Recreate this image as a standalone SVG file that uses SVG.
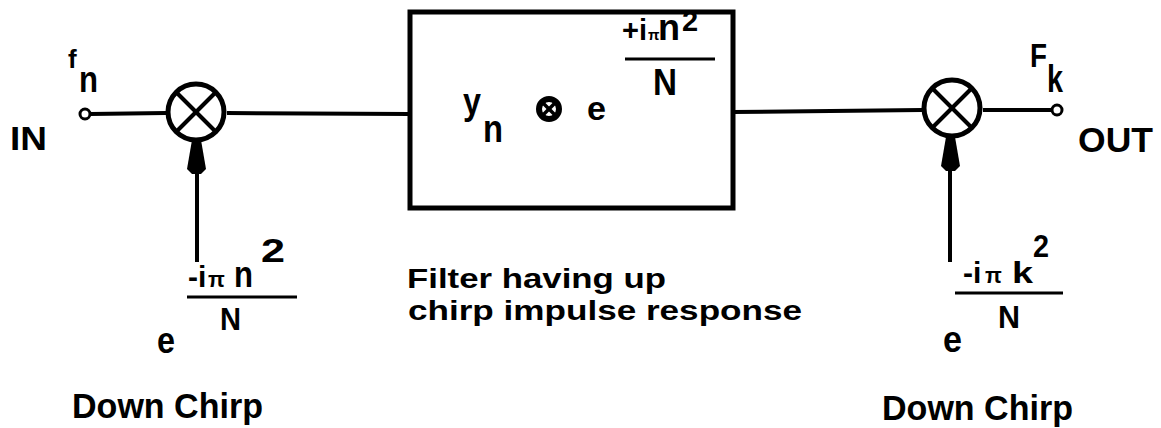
<svg xmlns="http://www.w3.org/2000/svg" width="1161" height="428" viewBox="0 0 1161 428">
<style>
text{font-family:"Liberation Sans",Arial,sans-serif;fill:#000;font-weight:bold}
.w{stroke:#000;stroke-width:4;fill:none}
.bar{stroke:#000;stroke-width:3}
.mix{fill:#fff;stroke:#000;stroke-width:5}
.term{fill:#fff;stroke:#000;stroke-width:3}
</style>
<rect width="1161" height="428" fill="#fff"/>
<g id="connectors">
<line class="w" x1="90" y1="114" x2="166" y2="113"/>
<line class="w" x1="227" y1="113" x2="410" y2="114"/>
<line class="w" x1="733" y1="112" x2="922" y2="110"/>
<line class="w" x1="983" y1="110" x2="1052" y2="110"/>
<line class="w" x1="197" y1="170" x2="197" y2="262"/>
<polygon points="192,140 201,140 206,169 201,174 192,174 187,169" fill="#000"/>
<line class="w" x1="950" y1="168" x2="950" y2="262"/>
<polygon points="946,137 955,137 960,166 955,171 946,171 941,166" fill="#000"/>
</g>
<g id="input">
<circle class="term" cx="85" cy="114" r="5"/>
<text x="68" y="68" font-size="26">f</text>
<text x="79" y="92" font-size="36" textLength="19" lengthAdjust="spacingAndGlyphs">n</text>
<text x="10" y="150" font-size="34" textLength="37" lengthAdjust="spacingAndGlyphs">IN</text>
</g>
<g id="mixer-in">
<circle class="mix" cx="196" cy="112" r="28"/>
<line class="w" x1="177" y1="93" x2="215" y2="131"/>
<line class="w" x1="215" y1="93" x2="177" y2="131"/>
<text y="287" font-size="30"><tspan x="188">-i</tspan><tspan x="208" font-size="22">π</tspan><tspan x="234" font-size="36" textLength="19" lengthAdjust="spacingAndGlyphs">n</tspan><tspan x="261" y="262" font-size="34" textLength="24" lengthAdjust="spacingAndGlyphs">2</tspan></text>
<line class="bar" x1="187" y1="297" x2="297" y2="297"/>
<text x="220" y="330" font-size="32" textLength="21" lengthAdjust="spacingAndGlyphs">N</text>
<text x="157" y="353" font-size="36" textLength="18" lengthAdjust="spacingAndGlyphs">e</text>
<text x="72" y="418" font-size="35" textLength="191" lengthAdjust="spacingAndGlyphs">Down Chirp</text>
</g>
<g id="filter">
<rect x="410" y="12" width="323" height="196" fill="none" stroke="#000" stroke-width="5"/>
<text x="463" y="114" font-size="36" textLength="18" lengthAdjust="spacingAndGlyphs">y</text>
<text x="483" y="142" font-size="38" textLength="20" lengthAdjust="spacingAndGlyphs">n</text>
<circle cx="549" cy="109" r="10" fill="#fff" stroke="#000" stroke-width="6"/>
<line x1="542" y1="102" x2="556" y2="116" stroke="#000" stroke-width="3.5"/>
<line x1="556" y1="102" x2="542" y2="116" stroke="#000" stroke-width="3.5"/>
<text x="587" y="120" font-size="34" textLength="19" lengthAdjust="spacingAndGlyphs">e</text>
<text y="40" font-size="29"><tspan x="622">+i</tspan><tspan x="648" font-size="15">π</tspan><tspan x="658" font-size="36" textLength="22" lengthAdjust="spacingAndGlyphs">n</tspan><tspan x="682" y="31" font-size="29">2</tspan></text>
<line class="bar" x1="625" y1="59" x2="715" y2="59"/>
<text x="653" y="95" font-size="36" textLength="24" lengthAdjust="spacingAndGlyphs">N</text>
<text font-size="28"><tspan x="407" y="288" textLength="259" lengthAdjust="spacingAndGlyphs">Filter having up</tspan><tspan x="408" y="320" textLength="394" lengthAdjust="spacingAndGlyphs">chirp impulse response</tspan></text>
</g>
<g id="mixer-out">
<circle class="mix" cx="952" cy="108" r="28"/>
<line class="w" x1="933" y1="89" x2="971" y2="127"/>
<line class="w" x1="971" y1="89" x2="933" y2="127"/>
<text y="283" font-size="30"><tspan x="963">-i</tspan><tspan x="985" font-size="22">π</tspan><tspan x="1012" font-size="30" textLength="21" lengthAdjust="spacingAndGlyphs">k</tspan><tspan x="1033" y="257" font-size="32" textLength="16" lengthAdjust="spacingAndGlyphs">2</tspan></text>
<line class="bar" x1="955" y1="293" x2="1063" y2="293"/>
<text x="998" y="328" font-size="32" textLength="22" lengthAdjust="spacingAndGlyphs">N</text>
<text x="943" y="352" font-size="36" textLength="19" lengthAdjust="spacingAndGlyphs">e</text>
<text x="882" y="420" font-size="35" textLength="191" lengthAdjust="spacingAndGlyphs">Down Chirp</text>
</g>
<g id="output">
<circle class="term" cx="1057" cy="110" r="5"/>
<text x="1030" y="67" font-size="33" textLength="17" lengthAdjust="spacingAndGlyphs">F</text>
<text x="1047" y="92" font-size="38" textLength="16" lengthAdjust="spacingAndGlyphs">k</text>
<text x="1078" y="152" font-size="35" textLength="75" lengthAdjust="spacingAndGlyphs">OUT</text>
</g>
</svg>
